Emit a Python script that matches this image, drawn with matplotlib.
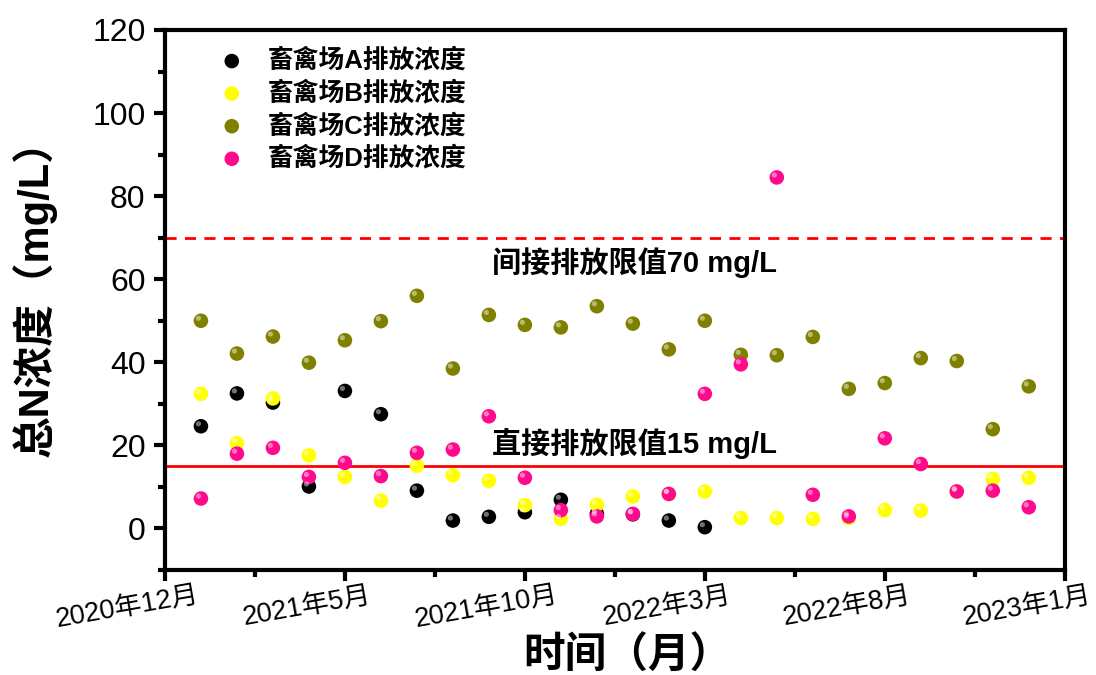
import matplotlib
import matplotlib.pyplot as plt
import matplotlib.transforms as mtransforms
import numpy as np

matplotlib.pyplot.switch_backend('Agg')

plt.rcParams['font.family'] = ['Liberation Sans', 'Noto Sans CJK SC', 'DejaVu Sans']

# months counted from 2020-12, one sample per month (2021-01 .. 2022-12)
months = np.arange(1, 25)
tick_pos = [0, 5, 10, 15, 20, 25]
tick_labels = ['2020年12月', '2021年5月', '2021年10月', '2022年3月', '2022年8月', '2023年1月']

farm_a = [24.6, 32.5, 30.3, 10.1, 33.1, 27.5, 9.1, 1.9, 2.8, 3.9, 6.9, 3.5,
          3.4, 1.9, 0.3]
farm_b = [32.4, 20.5, 31.3, 17.6, 12.4, 6.7, 15.1, 12.8, 11.5, 5.6, 2.3, 5.7,
          7.7, 8.3, 8.9, 2.5, 2.5, 2.3, 2.5, 4.4, 4.3, 8.9, 11.9, 12.2]
farm_c = [50.0, 42.1, 46.2, 39.9, 45.3, 49.9, 56.0, 38.5, 51.4, 49.0, 48.4, 53.5,
          49.3, 43.1, 50.0, 41.8, 41.7, 46.1, 33.6, 35.0, 41.0, 40.3, 23.9, 34.2]
farm_d = [7.2, 18.0, 19.4, 12.4, 15.8, 12.6, 18.2, 19.0, 27.0, 12.2, 4.4, 2.9,
          3.5, 8.3, 32.4, 39.5, 84.5, 8.1, 2.9, 21.7, 15.5, 8.9, 9.1, 5.1]

series = [
    ('畜禽场A排放浓度', farm_a, '#000000'),
    ('畜禽场B排放浓度', farm_b, '#ffff00'),
    ('畜禽场C排放浓度', farm_c, '#808000'),
    ('畜禽场D排放浓度', farm_d, '#ff0a8c'),
]

indirect_limit = 70
direct_limit = 15

fig = plt.figure(figsize=(10.96, 6.75), dpi=100)
ax = fig.add_axes([0.1505, 0.1556, 0.821, 0.80])

# small offset highlight to give the dots a shaded look
shine = mtransforms.offset_copy(ax.transData, fig=fig, x=-1.8, y=1.8, units='points')

for label, vals, color in series:
    x = months[:len(vals)]
    ax.scatter(x, vals, s=110, color=color, edgecolors='none', label=label, zorder=3)
    ax.scatter(x, vals, s=14, color='white', alpha=0.45, edgecolors='none',
               transform=shine, zorder=4)

ax.axhline(indirect_limit, color='#ff0000', lw=2, ls=(0, (4, 3)), zorder=2)
ax.axhline(direct_limit, color='#ff0000', lw=2, zorder=2)

ax.text(13.05, 64, '间接排放限值70 mg/L', ha='center', va='center',
        fontsize=21, fontweight='bold')
ax.text(13.05, 20.5, '直接排放限值15 mg/L', ha='center', va='center',
        fontsize=21, fontweight='bold')

ax.set_xlim(0, 25)
ax.set_ylim(-10, 120)
ax.set_xticks(tick_pos)
ax.set_xticklabels(tick_labels, rotation=10, ha='center')
ax.set_xticks(np.arange(2.5, 25, 5), minor=True)
ax.set_yticks(np.arange(0, 121, 20))
ax.set_yticks(np.arange(-10, 121, 20), minor=True)

ax.tick_params(axis='both', which='major', direction='out', length=8, width=3)
ax.tick_params(axis='both', which='minor', direction='out', length=5, width=3)
ax.tick_params(axis='x', labelsize=19.5, pad=1)
ax.tick_params(axis='y', labelsize=23, pad=6)
for s in ax.spines.values():
    s.set_linewidth(3)

# shift the slanted date labels a little to the left of their ticks
shift = mtransforms.ScaledTranslation(-0.38, 0, fig.dpi_scale_trans)
for lbl in ax.get_xticklabels():
    lbl.set_transform(lbl.get_transform() + shift)

fig.text(627 / 1096, 1 - 657 / 675, '时间（月）', ha='center', va='center',
         fontsize=30, fontweight='bold')
fig.text(34 / 1096, 1 - 288 / 675, '总N浓度（mg/L）', ha='center', va='center',
         rotation=90, fontsize=30, fontweight='bold')

ax.legend(loc='upper left', bbox_to_anchor=(0.04, 1.0), frameon=False,
          prop={'weight': 'bold', 'size': 18.5}, handlelength=1.0,
          handletextpad=0.9, labelspacing=0.3, borderaxespad=0.3)

plt.savefig('out.png', dpi=100)
